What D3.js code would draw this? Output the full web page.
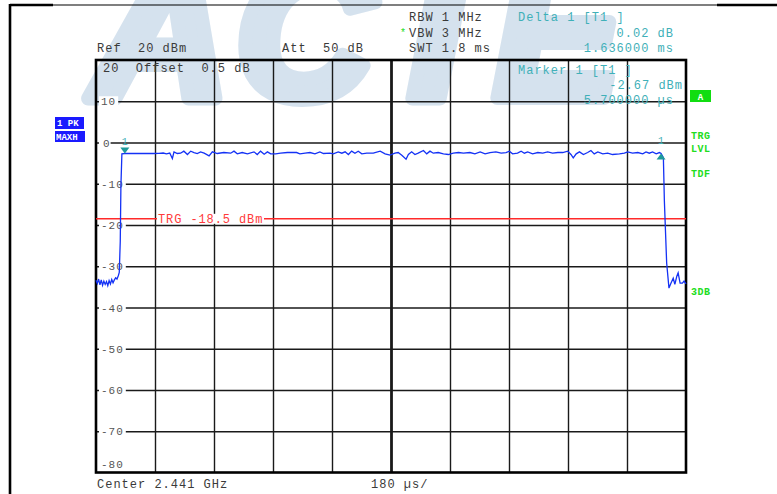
<!DOCTYPE html>
<html>
<head>
<meta charset="utf-8">
<script src="https://cdn.jsdelivr.net/npm/d3@7"></script>
<style>
body { margin: 0; background: #fff; }
svg { display: block; }
text { font-family: "Liberation Mono", monospace; }
</style>
</head>
<body>
<svg id="chart" width="777" height="494"></svg>
<script>
// sweep: 0..1800 us, ref level 20 dBm, 10 dB/div
var yLabels = [10, 0, -10, -20, -30, -40, -50, -60, -70];
var xDivs = [180, 360, 540, 720, 900, 1080, 1260, 1440, 1620];
var trgLevel = -18.5;

// marker 1 and delta marker (time in us, level in dBm)
var marker1 = [88, -2.67];
var delta1 = [1724, -2.65];

var traceTime = [0, 4, 8, 12, 16, 20, 24, 28, 32, 36, 40, 44, 48, 52, 56, 60, 64, 68, 71,
  74, 76, 79, 88,
  120, 150, 175, 192, 205, 215, 225, 233, 238, 248, 258, 268, 279, 289, 299, 309, 319, 330,
  345, 355, 370, 390, 411, 421, 431, 446, 462, 482, 492, 502, 513, 523, 533, 548, 563, 584,
  604, 612, 622, 638, 653, 668, 683, 694, 714, 724, 739, 750, 760, 770, 780, 790, 800, 811,
  826, 846, 867, 882, 897, 912, 922, 933, 946, 953, 963, 973, 983, 999, 1009, 1019, 1029,
  1044, 1060, 1075, 1090, 1106, 1121, 1141, 1156, 1172, 1187, 1202, 1220, 1236, 1251, 1261,
  1271, 1286, 1297, 1307, 1317, 1332, 1348, 1363, 1378, 1393, 1409, 1424, 1439, 1449, 1456,
  1465, 1475, 1487, 1500, 1510, 1520, 1531, 1546, 1561, 1576, 1597, 1612, 1622, 1637, 1653,
  1668, 1678, 1688, 1698, 1709, 1719, 1724,
  1731, 1734, 1741, 1748, 1754, 1761, 1766, 1772, 1776, 1782, 1789, 1794, 1800];

var traceLevel = [-33.4, -34.2, -33.1, -34.5, -33.3, -34.6, -33.6, -34.4, -33.7, -34.7, -33.5, -34.3, -33.2, -34.0, -33.3, -32.8, -33.1, -32.3, -31.5,
  -24.0, -10.5, -2.75, -2.67,
  -2.67, -2.63, -2.67, -2.66, -2.55, -2.75, -2.55, -3.88, -2.27, -2.67, -2.59, -2.10, -2.91, -2.10, -2.43, -2.67, -2.27, -2.59,
  -3.24, -2.27, -2.67, -2.43, -2.59, -2.10, -2.75, -2.43, -2.75, -2.27, -2.91, -2.10, -2.83, -2.27, -2.75, -2.75, -2.59, -2.43,
  -2.43, -2.43, -2.75, -2.59, -2.43, -2.75, -2.27, -2.67, -2.59, -2.75, -2.27, -2.59, -2.27, -2.91, -2.10, -2.59, -2.10, -2.75,
  -2.59, -2.59, -2.10, -2.75, -3.07, -2.59, -2.43, -3.07, -4.04, -2.91, -2.27, -2.91, -2.59, -1.94, -2.75, -2.10, -2.59,
  -2.43, -2.75, -2.91, -2.59, -2.43, -2.59, -2.43, -2.75, -2.27, -2.75, -2.43, -2.27, -2.59, -2.43, -2.10,
  -2.75, -2.59, -2.10, -2.59, -2.27, -2.75, -2.43, -2.59, -2.27, -2.59, -2.43, -2.43, -2.10, -2.91, -3.72,
  -2.75, -2.27, -2.91, -2.43, -1.94, -2.75, -2.27, -2.75, -2.59, -2.91, -2.75, -2.59, -2.27, -2.59, -2.43,
  -2.75, -2.27, -2.59, -2.27, -2.75, -2.43, -2.65,
  -3.7, -14.1, -29.2, -35.3, -34.1, -32.9, -34.4, -32.4, -31.6, -34.1, -34.1, -33.6, -34.3];

var svg = d3.select("#chart");

var x = d3.scaleLinear().domain([0, 1800]).range([96, 686]);
var y = d3.scaleLinear().domain([-80, 20]).range([472.5, 60]);

var gray = "#3a3a3a";
var teal = "#3fb0b8";
var green = "#22dd22";

// watermark, letter by letter
var wm = [["A", 92], ["C", 236], ["T", 378], ["E", 494]];
wm.forEach(function (d) {
  svg.append("text")
    .attr("x", d[1])
    .attr("y", 98)
    .style("font-family", "Liberation Sans")
    .style("font-weight", "bold")
    .style("font-style", "italic")
    .style("font-size", "190px")
    .attr("fill", "#d5e2ee")
    .attr("stroke", "#d5e2ee")
    .attr("stroke-width", 14)
    .attr("stroke-linejoin", "round")
    .text(d[0]);
});

// page frame
svg.append("line").attr("x1", 10).attr("x2", 777).attr("y1", 5).attr("y2", 5)
  .attr("stroke", "#000").attr("stroke-width", 1.2);
svg.append("line").attr("x1", 10).attr("x2", 53).attr("y1", 5).attr("y2", 5)
  .attr("stroke", "#000").attr("stroke-width", 2.4);
svg.append("line").attr("x1", 717).attr("x2", 777).attr("y1", 5).attr("y2", 5)
  .attr("stroke", "#000").attr("stroke-width", 2.4);
svg.append("line").attr("x1", 10).attr("x2", 10).attr("y1", 4).attr("y2", 494)
  .attr("stroke", "#000").attr("stroke-width", 2.6);

// grid
svg.append("g")
  .attr("transform", "translate(96,0)")
  .call(d3.axisLeft(y).tickValues(yLabels).tickSize(-590).tickFormat(""))
  .call(function (g) {
    g.select(".domain").remove();
    g.selectAll(".tick line").attr("stroke", "#1a1a1a").attr("stroke-width", 1.4);
  });

svg.append("g")
  .attr("transform", "translate(0,472.5)")
  .call(d3.axisBottom(x).tickValues(xDivs).tickSize(-412.5).tickFormat(""))
  .call(function (g) {
    g.select(".domain").remove();
    g.selectAll(".tick line").attr("stroke", "#1a1a1a")
      .attr("stroke-width", function (d) { return d == 900 ? 2.8 : 1.4; });
  });

svg.append("rect")
  .attr("x", x(0)).attr("y", y(20))
  .attr("width", x(1800) - x(0)).attr("height", y(-80) - y(20))
  .attr("fill", "none").attr("stroke", "#000").attr("stroke-width", 2.6);

// y labels with a gap in the grid line
yLabels.forEach(function (v) {
  var s = String(v);
  var w = s.length * 7.6;
  svg.append("rect")
    .attr("x", 99).attr("y", y(v) - 5)
    .attr("width", w + 4).attr("height", 10)
    .attr("fill", "#fff");
  svg.append("text")
    .attr("x", v == 0 ? 103 : 101).attr("y", y(v) + 4)
    .attr("font-size", 11).attr("letter-spacing", 1)
    .attr("fill", "#555")
    .text(s);
});
svg.append("text").attr("x", 101).attr("y", y(-80) - 5)
  .attr("font-size", 11).attr("letter-spacing", 1).attr("fill", "#555").text("-80");

// trigger level
var trgY = y(trgLevel);
svg.append("line").attr("x1", x(0)).attr("x2", x(1800)).attr("y1", trgY).attr("y2", trgY)
  .attr("stroke", "#ff2a2a").attr("stroke-width", 1.4);
svg.append("rect").attr("x", 157).attr("y", trgY - 5).attr("width", 107).attr("height", 10)
  .attr("fill", "#fff");
svg.append("text").attr("x", 158).attr("y", trgY + 4)
  .attr("font-size", 12).attr("letter-spacing", 0.9).attr("fill", "#ff3a3a")
  .text("TRG -18.5 dBm");

// trace
var pts = traceTime.map(function (t, i) { return [t, traceLevel[i]]; });
var line = d3.line()
  .x(function (d) { return x(d[0]); })
  .y(function (d) { return y(d[1]); });
svg.append("path")
  .datum(pts)
  .attr("d", line)
  .attr("fill", "none")
  .attr("stroke", "#1432f5")
  .attr("stroke-width", 1.3);

// markers
var mx = x(marker1[0]), my = y(marker1[1]);
svg.append("path")
  .attr("d", "M" + (mx - 4.5) + "," + (my - 6) + "L" + (mx + 4.5) + "," + (my - 6) + "L" + mx + "," + my + "Z")
  .attr("fill", "#1e9a9a");
svg.append("text").attr("x", mx).attr("y", my - 9).attr("text-anchor", "middle")
  .attr("font-size", 10).attr("fill", teal).text("1");

var dx = x(delta1[0]), dy = y(delta1[1]);
svg.append("path")
  .attr("d", "M" + (dx - 4.5) + "," + (dy + 6) + "L" + (dx + 4.5) + "," + (dy + 6) + "L" + dx + "," + dy + "Z")
  .attr("fill", "#1e9a9a");
svg.append("text").attr("x", dx).attr("y", dy - 9).attr("text-anchor", "middle")
  .attr("font-size", 10).attr("fill", teal).text("1");

// header texts
function label(tx, ty, s, color, anchor) {
  svg.append("text")
    .attr("x", tx).attr("y", ty)
    .attr("font-size", 12).attr("letter-spacing", 1)
    .attr("fill", color)
    .attr("text-anchor", anchor || "start")
    .style("white-space", "pre")
    .text(s);
}
label(409, 21, "RBW 1 MHz", gray);
label(409, 37, "VBW 3 MHz", gray);
label(409, 52, "SWT 1.8 ms", gray);
svg.append("text").attr("x", 400).attr("y", 36).attr("font-size", 10).attr("fill", green).text("*");
label(97, 52, "Ref  20 dBm", gray);
label(282, 52, "Att  50 dB", gray);
label(103, 72, "20  Offset  0.5 dB", gray);

label(518, 21, "Delta 1 [T1 ]", teal);
label(674, 37, "0.02 dB", teal, "end");
label(674, 52, "1.636000 ms", teal, "end");
label(518, 74, "Marker 1 [T1 ]", teal);
label(683, 89, "-2.67 dBm", teal, "end");
label(674, 104, "5.700000 \u00b5s", teal, "end");

label(97, 488, "Center 2.441 GHz", gray);
label(371, 488, "180 \u00b5s/", gray);

// side boxes
svg.append("rect").attr("x", 690).attr("y", 90).attr("width", 21).attr("height", 12).attr("fill", "#11dd11");
svg.append("text").attr("x", 700.5).attr("y", 99.5).attr("text-anchor", "middle")
  .attr("font-size", 9).attr("font-weight", "bold").attr("fill", "#fff").text("A");

svg.append("rect").attr("x", 55).attr("y", 117).attr("width", 29).attr("height", 12).attr("fill", "#1a1aff");
svg.append("text").attr("x", 57).attr("y", 126).attr("font-size", 9).attr("font-weight", "bold")
  .attr("fill", "#fff").style("white-space", "pre").text("1 PK");
svg.append("rect").attr("x", 55).attr("y", 131).attr("width", 30).attr("height", 11).attr("fill", "#1a1aff");
svg.append("text").attr("x", 56).attr("y", 140).attr("font-size", 9).attr("font-weight", "bold")
  .attr("fill", "#fff").text("MAXH");

var sideLabels = [["TRG", 139], ["LVL", 152], ["TDF", 177], ["3DB", 295]];
sideLabels.forEach(function (d) {
  svg.append("text").attr("x", 691).attr("y", d[1])
    .attr("font-size", 10).attr("font-weight", "bold").attr("letter-spacing", 0.5)
    .attr("fill", green).text(d[0]);
});
</script>
</body>
</html>
